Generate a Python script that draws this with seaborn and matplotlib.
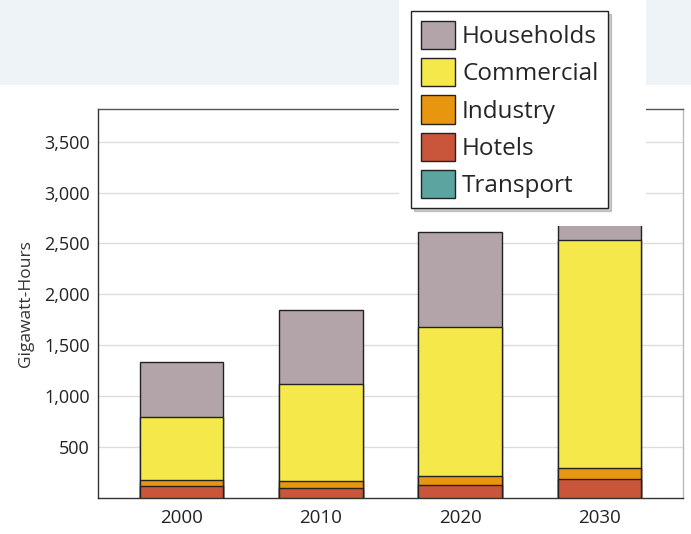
import numpy as np
import pandas as pd
import matplotlib
matplotlib.use("Agg")
import matplotlib.pyplot as plt
import seaborn as sns
from matplotlib.patches import Patch, Rectangle
from matplotlib.ticker import FuncFormatter

years = ["2000", "2010", "2020", "2030"]
transport = [0, 0, 0, 0]
hotels = [115, 100, 130, 185]
industry = [60, 65, 85, 105]
commercial = [620, 950, 1460, 2240]
households = [540, 730, 940, 1100]

sectors = ["Households", "Commercial", "Industry", "Hotels", "Transport"]
colors = {"Households": "#B2A4A9", "Commercial": "#F4E84A", "Industry": "#E8960F",
          "Hotels": "#C9553A", "Transport": "#5BA4A0"}

df = pd.DataFrame({"Year": years, "Transport": transport, "Hotels": hotels,
                   "Industry": industry, "Commercial": commercial, "Households": households})

# cumulative stacks, bottom layer first
stack_order = ["Transport", "Hotels", "Industry", "Commercial", "Households"]
cum = df[stack_order].cumsum(axis=1)

sns.set_style("white")
plt.rcParams['font.family'] = ['Open Sans', 'DejaVu Sans']

fig = plt.figure(figsize=(6.91, 5.34), dpi=100)

# pale banner at top of the slide
fig.patches.append(Rectangle((0, 1 - 85 / 534), 1, 85 / 534, transform=fig.transFigure,
                             facecolor="#EEF3F8", edgecolor="none", zorder=0))

ax = fig.add_axes([98 / 691, 1 - 498 / 534, (683 - 98) / 691, (498 - 109) / 534])

# draw tallest first so each lower layer sits on top
for s in reversed(stack_order):
    if df[s].sum() == 0:
        continue
    sns.barplot(x=df["Year"], y=cum[s], color=colors[s], saturation=1, width=0.6,
                edgecolor="#222222", linewidth=1.0, ax=ax, zorder=3)

ax.set_xlim(-0.6, 3.6)
ax.set_ylim(0, 3820)
ax.set_yticks([500, 1000, 1500, 2000, 2500, 3000, 3500])
ax.yaxis.set_major_formatter(FuncFormatter(lambda v, p: f"{int(v):,}"))
ax.grid(axis="y", color="#DDDDDD", linewidth=1.0, zorder=0)
ax.set_axisbelow(True)
ax.set_xlabel("")
ax.set_ylabel("Gigawatt-Hours", fontsize=12.5, color="#333333", labelpad=7)
ax.tick_params(axis="y", labelsize=13, colors="#222222", length=3, width=0.8, color="#BBBBBB", pad=3)
ax.tick_params(axis="x", labelsize=13.5, colors="#222222", length=3, width=0.8, color="#BBBBBB", pad=5)
ax.spines["left"].set_color("#333333")
ax.spines["bottom"].set_color("#333333")
ax.spines["top"].set_color("#555555")
ax.spines["right"].set_color("#BBBBBB")
for sp in ax.spines.values():
    sp.set_linewidth(1.0)

# white panel behind the legend
fig.patches.append(Rectangle((399 / 691, 1 - 226 / 534), (646 - 399) / 691, 226 / 534,
                             transform=fig.transFigure, facecolor="white",
                             edgecolor="none", zorder=5))

handles = [Patch(facecolor=colors[s], edgecolor="#222222", linewidth=1.0) for s in sectors]
leg = fig.legend(handles, sectors, loc="upper left",
                 bbox_to_anchor=(411 / 691, 1 - 11 / 534), fontsize=17.5,
                 handlelength=1.4, handleheight=1.4, labelspacing=0.38,
                 handletextpad=0.3, borderpad=0.4, borderaxespad=0,
                 frameon=True, fancybox=False,
                 shadow={"color": "#999999", "alpha": 0.5, "ox": 2, "oy": -2})
leg.get_frame().set_edgecolor("#222222")
leg.get_frame().set_linewidth(1.0)
leg.set_zorder(10)

fig.savefig("out.png", dpi=100)
